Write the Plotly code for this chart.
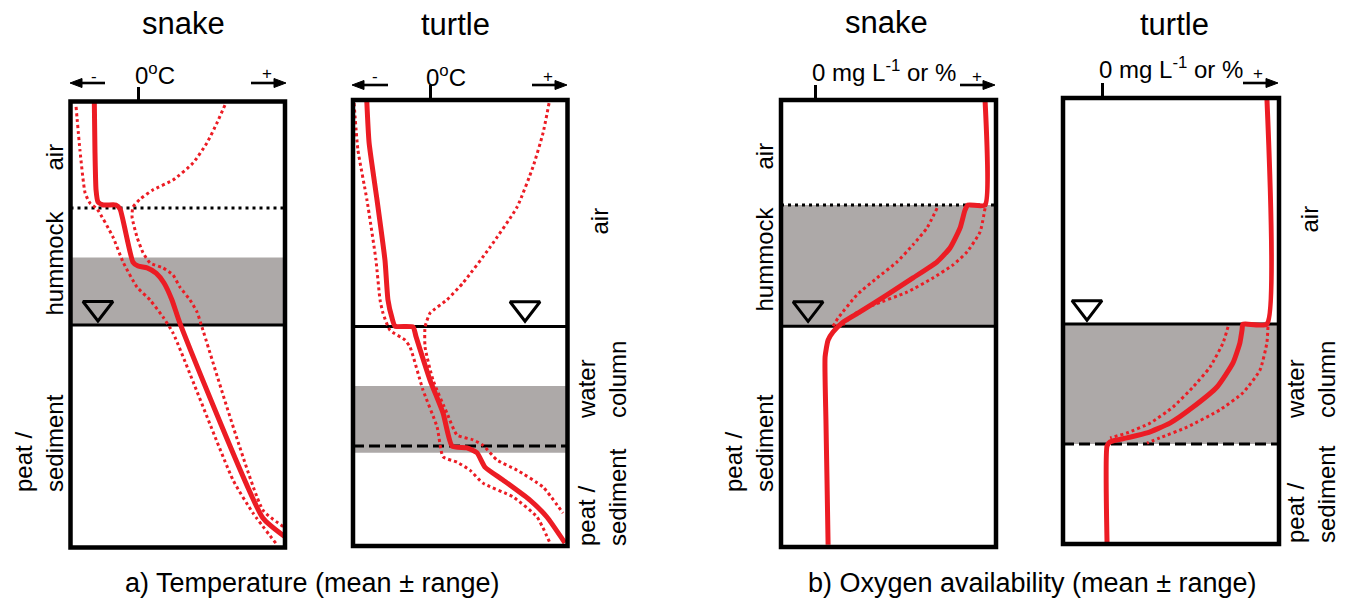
import plotly.graph_objects as go

W, H = 1347, 600
RED = "#EC1C24"
GRAY = "#ADA9A8"
FONT = "Liberation Sans, Arial, Helvetica, sans-serif"

# ---------------- data (x: relative value 0-100 across panel, d: relative depth 0-100) ----------------
# a) Temperature - snake
ts_mean_x = [11.1, 11.4, 11.9, 12.8, 15.2, 21.2, 23.1, 29.1, 31.5, 35.7, 39.9, 43.6, 47.3, 51.0, 89.7, 100.0]
ts_mean_d = [0.0, 10.9, 19.8, 22.5, 23.2, 23.2, 24.1, 36.0, 36.9, 37.3, 38.5, 40.7, 44.5, 49.7, 93.4, 97.6]
ts_low_x = [2.6, 4.4, 6.8, 9.1, 12.4, 19.8, 24.5, 31.0, 37.1, 43.1, 47.8, 75.8, 85.1, 96.3]
ts_low_d = [1.2, 10.9, 20.5, 22.8, 24.1, 30.4, 36.0, 41.6, 44.5, 48.3, 51.9, 84.9, 92.3, 99.4]
ts_high_x = [72.0, 68.3, 63.6, 57.1, 47.8, 38.5, 32.4, 29.1, 28.7, 31.0, 33.8, 37.1, 43.1, 47.8, 51.0, 55.7, 59.0, 61.3, 89.7, 99.5]
ts_high_d = [0.8, 4.8, 9.3, 13.8, 17.6, 19.8, 21.9, 23.7, 25.9, 30.4, 33.9, 36.2, 37.3, 38.9, 41.6, 44.5, 47.2, 50.6, 91.6, 95.4]

# a) Temperature - turtle
tt_mean_x = [6.4, 7.5, 11.2, 14.9, 16.3, 18.2, 19.6, 28.0, 29.4, 35.9, 42.0, 46.2, 53.1, 57.8, 61.5, 69.9, 82.5, 90.4, 98.8]
tt_mean_d = [0.0, 9.6, 22.4, 35.9, 44.8, 48.9, 50.7, 50.9, 53.1, 62.8, 70.2, 77.6, 78.0, 79.1, 82.3, 85.2, 89.7, 93.5, 99.3]
tt_low_x = [0.5, 2.3, 6.5, 10.7, 12.6, 14.0, 17.2, 24.2, 26.6, 32.6, 39.2, 42.0, 48.5, 54.5, 60.6, 74.6, 85.8, 91.8]
tt_low_d = [0.7, 11.2, 22.4, 35.9, 44.8, 47.8, 51.6, 53.8, 55.4, 65.0, 73.3, 80.0, 81.2, 83.0, 85.9, 89.0, 93.5, 99.3]
tt_high_x = [91.4, 88.6, 83.9, 76.5, 63.9, 51.3, 43.8, 35.9, 33.6, 33.6, 37.3, 43.8, 48.5, 55.9, 60.6, 67.1, 76.5, 88.6, 97.9]
tt_high_d = [0.7, 7.4, 15.0, 24.0, 33.0, 41.0, 44.8, 47.8, 50.9, 55.4, 62.8, 70.2, 75.1, 76.2, 77.4, 80.7, 83.0, 86.8, 92.6]

# b) Oxygen - snake
os_mean_x = [94.9, 94.9, 87.0, 85.6, 83.3, 78.6, 72.6, 61.4, 49.3, 36.7, 28.8, 24.2, 21.9, 20.5, 20.9, 21.4, 21.9]
os_mean_d = [0.0, 23.5, 23.5, 24.6, 28.6, 33.1, 36.2, 39.8, 43.6, 47.4, 49.7, 51.9, 53.7, 57.5, 71.6, 85.0, 99.5]
os_low_x = [72.6, 67.9, 61.4, 54.0, 44.7, 35.3, 26.5, 24.2]
os_low_d = [24.2, 28.6, 32.4, 36.2, 39.8, 43.6, 48.8, 50.6]
os_high_x = [94.9, 92.6, 86.5, 80.0, 70.7, 58.6, 42.8, 33.5, 28.8]
os_high_d = [24.2, 29.5, 34.0, 36.9, 39.8, 43.0, 45.9, 48.1, 50.3]

# b) Oxygen - turtle
ot_mean_x = [94.4, 94.4, 83.3, 82.9, 81.9, 78.7, 71.3, 60.2, 49.5, 38.9, 29.6, 21.8, 20.4, 20.4]
ot_mean_d = [0.0, 50.7, 50.7, 52.0, 54.9, 59.4, 64.8, 69.3, 72.9, 75.1, 76.2, 77.1, 78.0, 100.0]
ot_low_x = [76.4, 74.1, 68.1, 60.2, 50.9, 40.3, 29.6, 21.8]
ot_low_d = [51.3, 54.9, 60.3, 64.8, 69.3, 72.9, 75.1, 76.2]
ot_high_x = [94.9, 94.4, 91.2, 83.3, 72.7, 57.4, 44.9, 38.9]
ot_high_d = [51.3, 54.9, 61.0, 66.1, 69.9, 73.8, 76.2, 77.4]

# layer boundaries per panel
surface_dotted = [23.9, None, 23.5, None]      # hummock surface
water_table = [50.1, 50.8, 50.6, 50.7]
sediment_dashed = [None, 77.6, None, 77.6]     # sediment surface
gray_band = [(35.0, 50.1), (64.1, 79.1), (23.5, 50.6), (50.7, 77.6)]
triangle_x = [12.8, 80.2, 12.6, 11.1]
triangle_d = [46.3, 46.7, 46.6, 46.9]
zero_x = [31.9, 35.9, 16.1, 18.4]

titles = ["snake", "turtle", "snake", "turtle"]
zero_labels = ["0<sup>o</sup>C", "0<sup>o</sup>C", "0 mg L<sup>-1</sup> or %", "0 mg L<sup>-1</sup> or %"]
captions = ["a) Temperature (mean ± range)", "b) Oxygen availability (mean ± range)"]

# ---------------- layout (pixels of the reference) ----------------
boxes = [(70.5, 285.0, 101.5, 547.5), (353.0, 567.5, 100.0, 546.0),
         (781.0, 996.0, 100.0, 547.0), (1063.0, 1279.0, 98.0, 544.0)]
title_pos = [(183.5, 23.5), (455.0, 25.0), (886.0, 22.5), (1174.0, 25.0)]
zero_pos = [(133.0, 73.5), (424.0, 76.5), (810.0, 71.5), (1097.0, 68.5)]
# arrows: (tail x, tip x, y)
arrows = [(105, 70, 83), (251, 286, 83), (388, 352, 85), (532, 567, 85), (960, 995, 85), (1243, 1278, 83)]
signs = [("-", 94, 77), ("+", 267, 74), ("-", 375, 77), ("+", 548, 76), ("+", 977, 76), ("+", 1258, 74)]
side_labels = [
    ("air", 54, 173), ("hummock", 54, 318), ("peat /<br>sediment", 39, 494),
    ("air", 599, 237), ("water<br>column", 602, 421), ("peat /<br>sediment", 602, 548),
    ("air", 764, 172), ("hummock", 764, 314), ("peat /<br>sediment", 749, 494),
    ("air", 1309, 235), ("water<br>column", 1311, 421), ("peat /<br>sediment", 1311, 545),
]
caption_pos = [(312.5, 583.0), (1032.5, 583.0)]

series = [
    (ts_mean_x, ts_mean_d, ts_low_x, ts_low_d, ts_high_x, ts_high_d),
    (tt_mean_x, tt_mean_d, tt_low_x, tt_low_d, tt_high_x, tt_high_d),
    (os_mean_x, os_mean_d, os_low_x, os_low_d, os_high_x, os_high_d),
    (ot_mean_x, ot_mean_d, ot_low_x, ot_low_d, ot_high_x, ot_high_d),
]


def px(x, y):
    return x / W, 1 - y / H


fig = go.Figure()
shapes = []
annotations = []

for i, (bx0, bx1, by0, by1) in enumerate(boxes):
    k = "" if i == 0 else str(i + 1)
    xr, yr = "x" + k, "y" + k
    dx0, dy1 = px(bx0, by0)
    dx1, dy0 = px(bx1, by1)
    fig.update_layout(**{
        "xaxis" + k: dict(domain=[dx0, dx1], range=[0, 100], anchor=yr, side="top",
                          showgrid=False, zeroline=False, showline=False, ticks="outside",
                          tickvals=[zero_x[i]], ticklen=14, tickwidth=3, tickcolor="black",
                          showticklabels=False, fixedrange=True),
        "yaxis" + k: dict(domain=[dy0, dy1], range=[100, 0], anchor=xr,
                          visible=False, fixedrange=True),
    })
    g0, g1 = gray_band[i]
    shapes.append(dict(type="rect", xref=xr, yref=yr, x0=0, x1=100, y0=g0, y1=g1,
                       fillcolor=GRAY, line=dict(width=0), layer="below"))
    if surface_dotted[i] is not None:
        shapes.append(dict(type="line", xref=xr, yref=yr, x0=0, x1=100, y0=surface_dotted[i],
                           y1=surface_dotted[i], line=dict(color="black", width=3, dash="3px,4px"),
                           layer="below"))
    shapes.append(dict(type="line", xref=xr, yref=yr, x0=0, x1=100, y0=water_table[i],
                       y1=water_table[i], line=dict(color="black", width=3), layer="below"))
    if sediment_dashed[i] is not None:
        shapes.append(dict(type="line", xref=xr, yref=yr, x0=0, x1=100, y0=sediment_dashed[i],
                           y1=sediment_dashed[i], line=dict(color="black", width=3, dash="11px,5px"),
                           layer="below"))
    # frame (domain refs -> not clipped)
    shapes.append(dict(type="rect", xref=xr + " domain", yref=yr + " domain", x0=0, x1=1, y0=0, y1=1,
                       line=dict(color="black", width=4.5), fillcolor="rgba(0,0,0,0)", layer="above"))

    mx, md, lx, ld, hx, hd = series[i]
    for xs, ds in ((lx, ld), (hx, hd)):
        fig.add_trace(go.Scatter(x=xs, y=ds, xaxis=xr, yaxis=yr, mode="lines",
                                 line=dict(color=RED, width=3, dash="3px,3px", shape="spline", smoothing=0.5),
                                 showlegend=False, hoverinfo="skip"))
    fig.add_trace(go.Scatter(x=mx, y=md, xaxis=xr, yaxis=yr, mode="lines",
                             line=dict(color=RED, width=5, shape="spline", smoothing=0.5),
                             showlegend=False, hoverinfo="skip"))
    fig.add_trace(go.Scatter(x=[triangle_x[i]], y=[triangle_d[i]], xaxis=xr, yaxis=yr, mode="markers",
                             marker=dict(symbol="triangle-down-open", size=26, color="black",
                                         line=dict(width=3, color="black")),
                             showlegend=False, hoverinfo="skip", cliponaxis=False))

    tx, ty = px(*title_pos[i])
    annotations.append(dict(text=titles[i], x=tx, y=ty, xref="paper", yref="paper",
                            showarrow=False, xanchor="center", yanchor="middle",
                            font=dict(size=31, color="black", family=FONT)))
    zx, zy = px(*zero_pos[i])
    annotations.append(dict(text=zero_labels[i], x=zx, y=zy, xref="paper", yref="paper",
                            showarrow=False, xanchor="left", yanchor="middle",
                            font=dict(size=24, color="black", family=FONT)))

# arrows drawn as shaft + filled head
HEAD_L, HEAD_W = 12, 4.5
for tail, tip, ay in arrows:
    s = 1 if tip > tail else -1
    base = tip - s * HEAD_L
    x0, y0 = px(tail, ay)
    x1, _ = px(base + s * 1, ay)
    shapes.append(dict(type="line", xref="paper", yref="paper", x0=x0, x1=x1, y0=y0, y1=y0,
                       line=dict(color="black", width=2.6)))
    hx0, hy0 = px(tip, ay)
    bxa, bya = px(base, ay - HEAD_W)
    bxb, byb = px(base, ay + HEAD_W)
    shapes.append(dict(type="path", xref="paper", yref="paper",
                       path=f"M{hx0},{hy0} L{bxa},{bya} L{bxb},{byb} Z",
                       fillcolor="black", line=dict(color="black", width=1)))
for txt, sx, sy in signs:
    ax_, ay_ = px(sx, sy)
    annotations.append(dict(text=txt, x=ax_, y=ay_, xref="paper", yref="paper", showarrow=False,
                            xanchor="center", yanchor="middle",
                            font=dict(size=17, color="black", family=FONT)))

for txt, sx, sy in side_labels:
    ax_, ay_ = px(sx, sy)
    annotations.append(dict(text=txt, x=ax_, y=ay_, xref="paper", yref="paper", showarrow=False,
                            textangle=-90, xanchor="center", yanchor="bottom", align="left",
                            font=dict(size=24, color="black", family=FONT)))

for txt, (cx, cy) in zip(captions, caption_pos):
    ax_, ay_ = px(cx, cy)
    annotations.append(dict(text=txt, x=ax_, y=ay_, xref="paper", yref="paper",
                            showarrow=False, xanchor="center", yanchor="middle",
                            font=dict(size=27, color="black", family=FONT)))

fig.update_layout(width=W, height=H, autosize=False, margin=dict(l=0, r=0, t=0, b=0),
                  paper_bgcolor="white", plot_bgcolor="rgba(0,0,0,0)",
                  shapes=shapes, annotations=annotations, showlegend=False,
                  font=dict(family=FONT, color="black"))

# remove the default page margin so the 1347x600 figure fills the window exactly
fig.write_html("out.html", config={"displayModeBar": False},
               post_script="document.body.style.margin='0';document.body.style.overflow='hidden';")
